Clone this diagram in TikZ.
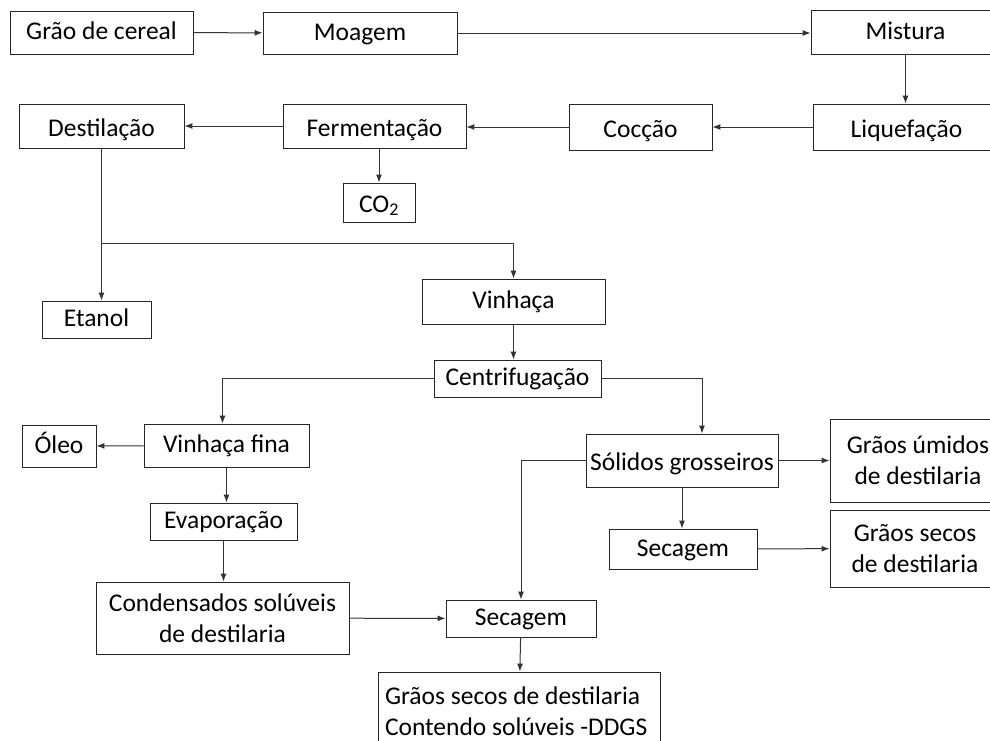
\documentclass[tikz,border=0pt]{standalone}
\usepackage{fontspec}
\setmainfont{Carlito}
\usetikzlibrary{arrows.meta}

\begin{document}
\begin{tikzpicture}[x=1pt,y=-1pt]
        \tikzstyle{every node}=[draw=black!85, line width=0.9pt, inner sep=0pt, font=\fontsize{25.5}{31}\selectfont];
        \tikzstyle{uma}=[text height=19pt, text depth=5pt];
        \tikzstyle{media}=[text height=20pt, text depth=1pt];
        \tikzstyle{baixa}=[text height=21pt, text depth=0pt];
        \tikzstyle{duas}=[align=center];
        \tikzstyle{seta}=[-{Latex[length=8pt,width=6pt]}, line width=1pt, draw=black!80];
        \useasboundingbox (0,0) rectangle (990,740);
        % linha de cima
        \node[uma, minimum width=183, minimum height=43] (grao) at (101.5,32.5) {Grão de cereal};
        \node[uma, minimum width=194, minimum height=42] (moagem) at (360,33) {Moagem};
        \node[uma, minimum width=189, minimum height=44] (mistura) at (905.5,32) {Mistura};
        % segunda linha
        \node[baixa, minimum width=187, minimum height=46] (liquefacao) at (906.5,127) {Liquefação};
        \node[baixa, minimum width=143, minimum height=46] (coccao) at (640.5,127) {Cocção};
        \node[baixa, minimum width=183, minimum height=44] (fermentacao) at (374.5,126) {Fermentação};
        \node[baixa, minimum width=165, minimum height=44] (destilacao) at (101.5,126) {Destilação};
        \node[media, minimum width=72, minimum height=39] (co2) at (379,202.5) {CO\textsubscript{2}};
        \node[uma, minimum width=109, minimum height=37] (etanol) at (96.5,319.5) {Etanol};
        \node[uma, minimum width=183, minimum height=45] (vinhaca) at (513.5,301.5) {Vinhaça};
        \node[uma, minimum width=167, minimum height=37] (centrifugacao) at (517.5,378.5) {Centrifugação};
        % ramo da vinhaca fina
        \node[uma, minimum width=74, minimum height=42] (oleo) at (59,446) {Óleo};
        \node[uma, minimum width=165, minimum height=43] (vfina) at (226.5,445.5) {Vinhaça fina};
        \node[uma, minimum width=147, minimum height=37] (evaporacao) at (223.5,521.5) {Evaporação};
        \node[duas, minimum width=253, minimum height=72] (condensados) at (222.5,618) {Condensados solúveis\\de destilaria};
        % ramo dos solidos
        \node[media, minimum width=192, minimum height=53] (solidos) at (682,460.5) {Sólidos grosseiros};
        \node[duas, minimum width=176, minimum height=83] (umidos) at (918,460.5) {Grãos úmidos\\de destilaria};
        \node[uma, minimum width=148, minimum height=40] (secagemA) at (683,549) {Secagem};
        \node[duas, minimum width=170, minimum height=77] (secos) at (915,548.5) {Grãos secos\\de destilaria};
        \node[uma, minimum width=150, minimum height=37] (secagemB) at (521,618.5) {Secagem};
        \node[minimum width=282, minimum height=78, text width=268, align=flush left] (ddgs) at (519,711) {Grãos secos de destilaria\\Contendo solúveis -DDGS};
        \coordinate (juncao) at (101.5,243);

        \draw[seta] (grao) -- (moagem);
        \draw[seta] (moagem.east) -- (moagem.east -| mistura.west);
        \draw[seta] (mistura) -- (mistura |- liquefacao.north);
        \draw[seta] (liquefacao) -- (coccao);
        \draw[seta] (coccao.west) -- (coccao.west -| fermentacao.east);
        \draw[seta] (fermentacao) -- (destilacao);
        \draw[seta] (fermentacao.south -| co2) -- (co2);
        \draw[seta] (destilacao) -- (juncao) -- (etanol.north -| juncao);
        \draw[seta] (juncao) -| (vinhaca.north);
        \draw[seta] (vinhaca) -- (vinhaca |- centrifugacao.north);
        \draw[seta] (centrifugacao.west) -| ([xshift=-4]vfina.north);
        \draw[seta] (centrifugacao.east) -| ([xshift=20]solidos.north);
        \draw[seta] (vfina) -- (oleo);
        \draw[seta] (vfina) -- (vfina |- evaporacao.north);
        \draw[seta] (evaporacao) -- (evaporacao |- condensados.north);
        \draw[seta] (condensados) -- (secagemB);
        \draw[seta] (solidos.west) -| (secagemB.north);
        \draw[seta] (solidos) -- (umidos);
        \draw[seta] (solidos) -- (solidos |- secagemA.north);
        \draw[seta] (secagemA) -- (secos);
        \draw[seta] (secagemB) -- (ddgs);
    \end{tikzpicture}
\end{document}
